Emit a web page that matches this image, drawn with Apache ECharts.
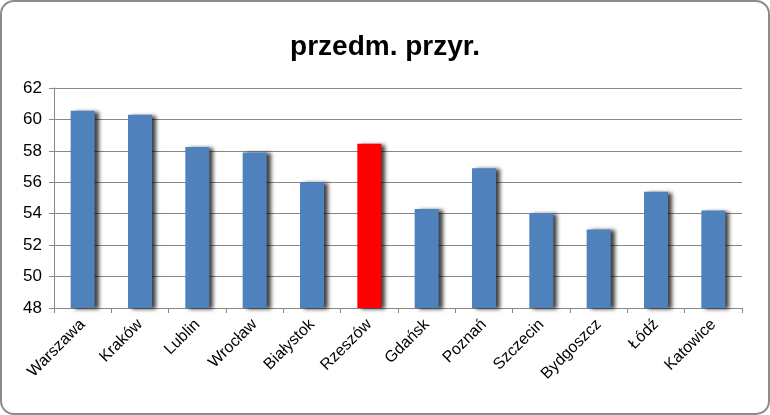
<!DOCTYPE html>
<html><head><meta charset="utf-8">
<script src="https://cdn.jsdelivr.net/npm/echarts@6/dist/echarts.min.js"></script>
<style>html,body{margin:0;padding:0;background:#fff}#c{width:770px;height:415px;box-sizing:border-box;border:2px solid #8c8c8c;border-radius:14px}</style>
</head><body><div id="c"></div>
<script>
const categories=['Warszawa','Kraków','Lublin','Wrocław','Białystok','Rzeszów','Gdańsk','Poznań','Szczecin','Bydgoszcz','Łódź','Katowice'];
const values=[60.55,60.3,58.25,57.9,56.0,58.45,54.3,56.9,54.05,53.0,55.4,54.2];
const highlight='Rzeszów';
const chart=echarts.init(document.getElementById('c'));
chart.setOption({
  animation:false,
  title:{text:'przedm. przyr.',left:'center',top:26,textStyle:{fontFamily:'Liberation Sans',fontSize:28,fontWeight:'bold',color:'#000'}},
  grid:{left:52,right:26,top:86,bottom:105},
  xAxis:{type:'category',data:categories,
    axisTick:{show:true,length:5,lineStyle:{color:'#868686'}},
    axisLine:{lineStyle:{color:'#868686'}},
    axisLabel:{rotate:45,color:'#000',fontFamily:'Liberation Sans',fontSize:16,margin:14}},
  yAxis:{type:'value',min:48,max:62,interval:2,
    axisLine:{show:true,lineStyle:{color:'#868686'}},
    axisTick:{show:true,length:5,lineStyle:{color:'#868686'}},
    splitLine:{lineStyle:{color:'#868686'}},
    axisLabel:{color:'#000',fontFamily:'Liberation Sans',fontSize:17,margin:12}},
  series:[{type:'bar',barWidth:24,
    data:values.map((v,i)=>({value:v,itemStyle:{color:categories[i]===highlight?'#ff0000':'#4f81bd'}})),
    itemStyle:{shadowColor:'rgba(0,0,0,0.75)',shadowBlur:4,shadowOffsetX:4,shadowOffsetY:1}}]
});
</script></body></html>
